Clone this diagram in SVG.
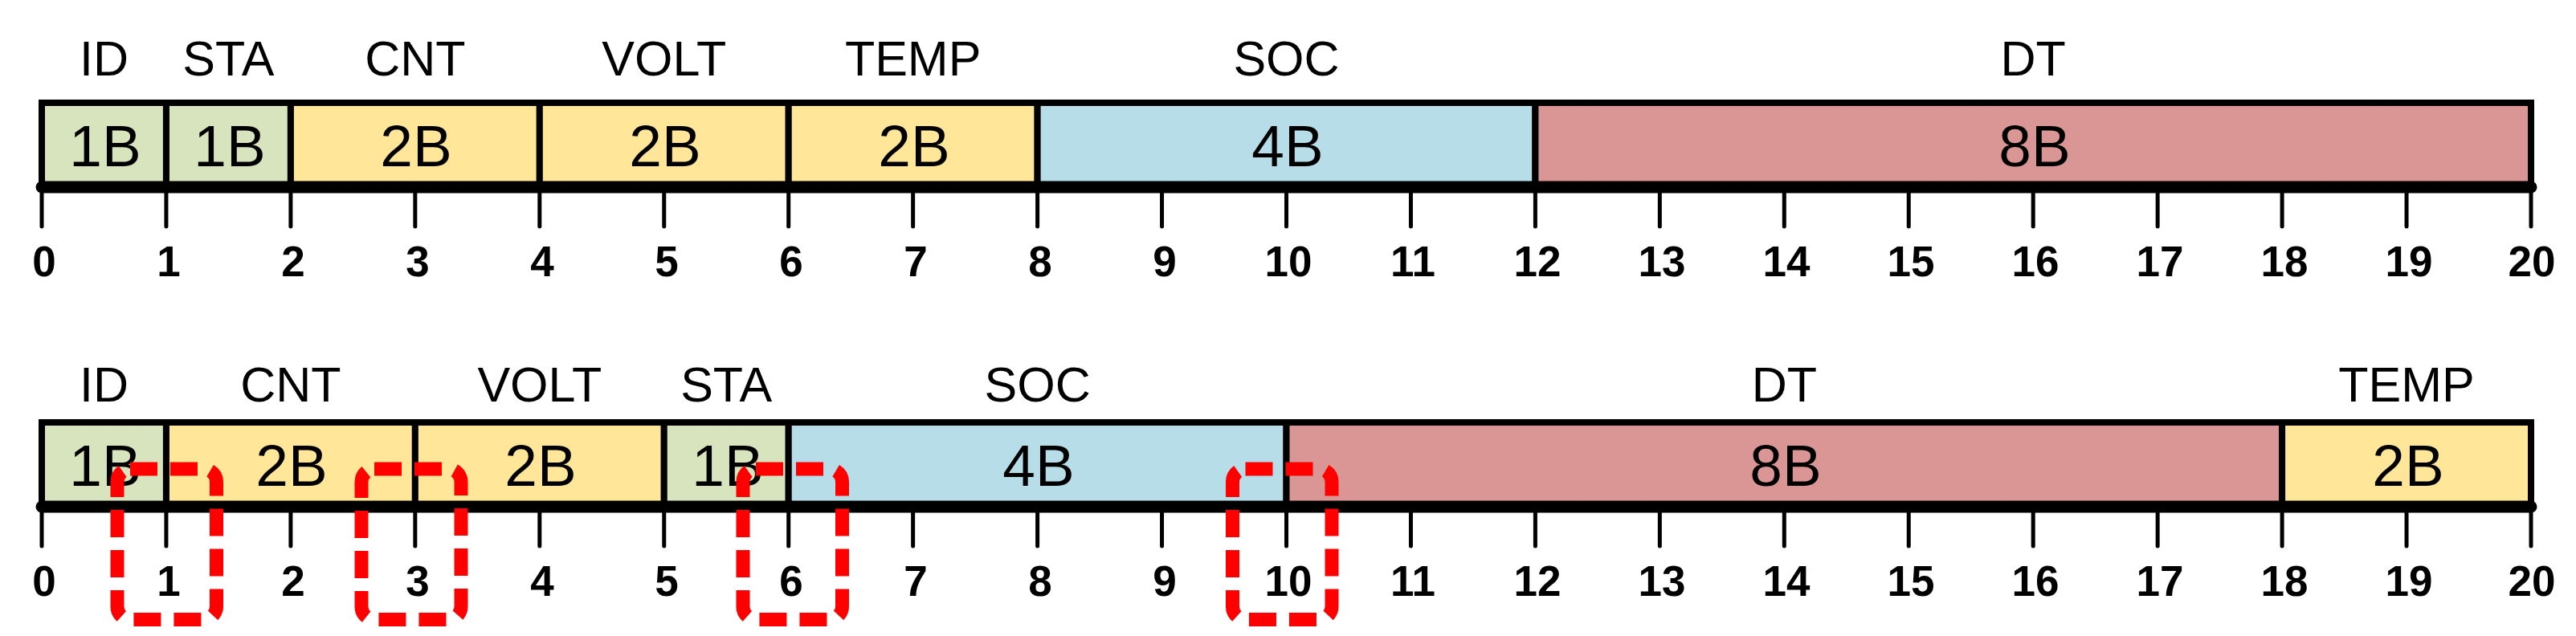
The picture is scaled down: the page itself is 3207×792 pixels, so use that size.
<svg xmlns="http://www.w3.org/2000/svg" width="3207" height="792" viewBox="0 0 3207 792">
<style>
.cell{stroke:#000;stroke-width:8}
.g{fill:#D7E4BD}.y{fill:#FFE699}.b{fill:#B7DDE8}.r{fill:#D99694}
.hdr{font-family:"Liberation Sans",Arial,sans-serif;font-size:61px;fill:#000;text-anchor:middle}
.sz{font-family:"Liberation Sans",Arial,sans-serif;font-size:73px;fill:#000;text-anchor:middle}
.num{font-family:"Liberation Sans",Arial,sans-serif;font-size:53px;font-weight:bold;fill:#000;text-anchor:middle}
.axis{stroke:#000;stroke-width:15;stroke-linecap:round;fill:none}
.tick{stroke:#000;stroke-width:5;stroke-linecap:round;fill:none}
.hl{fill:none;stroke:#FF0000;stroke-width:17;stroke-dasharray:34 16}
</style>
<rect width="3207" height="792" fill="#fff"/>

<!-- Top row -->
<g id="top-ID"><rect class="cell g" x="52" y="128" width="154.95" height="105"/><text class="hdr" x="129.5" y="94">ID</text><text class="sz" x="131" y="207">1B</text></g>
<g id="top-STA"><rect class="cell g" x="206.95" y="128" width="154.95" height="105"/><text class="hdr" x="284.4" y="94">STA</text><text class="sz" x="286" y="207">1B</text></g>
<g id="top-CNT"><rect class="cell y" x="361.9" y="128" width="309.9" height="105"/><text class="hdr" x="516.85" y="94">CNT</text><text class="sz" x="518" y="207">2B</text></g>
<g id="top-VOLT"><rect class="cell y" x="671.8" y="128" width="309.9" height="105"/><text class="hdr" x="826.75" y="94">VOLT</text><text class="sz" x="828" y="207">2B</text></g>
<g id="top-TEMP"><rect class="cell y" x="981.7" y="128" width="309.9" height="105"/><text class="hdr" x="1136.65" y="94">TEMP</text><text class="sz" x="1138" y="207">2B</text></g>
<g id="top-SOC"><rect class="cell b" x="1291.6" y="128" width="619.8" height="105"/><text class="hdr" x="1601.5" y="94">SOC</text><text class="sz" x="1603" y="207">4B</text></g>
<g id="top-DT"><rect class="cell r" x="1911.4" y="128" width="1239.6" height="105"/><text class="hdr" x="2531.2" y="94">DT</text><text class="sz" x="2533" y="207">8B</text></g>

<g id="top-axis">
<line class="axis" x1="52" y1="233" x2="3151" y2="233"/>
<path class="tick" d="M52 233V282M206.95 233V282M361.9 233V282M516.85 233V282M671.8 233V282M826.75 233V282M981.7 233V282M1136.65 233V282M1291.6 233V282M1446.55 233V282M1601.5 233V282M1756.45 233V282M1911.4 233V282M2066.35 233V282M2221.3 233V282M2376.25 233V282M2531.2 233V282M2686.15 233V282M2841.1 233V282M2996.05 233V282M3151 233V282"/>
<text class="num" x="55" y="344">0</text><text class="num" x="210" y="344">1</text><text class="num" x="365" y="344">2</text><text class="num" x="520" y="344">3</text><text class="num" x="675" y="344">4</text><text class="num" x="830" y="344">5</text><text class="num" x="985" y="344">6</text><text class="num" x="1140" y="344">7</text><text class="num" x="1295" y="344">8</text><text class="num" x="1450" y="344">9</text><text class="num" x="1604" y="344">10</text><text class="num" x="1759" y="344">11</text><text class="num" x="1914" y="344">12</text><text class="num" x="2069" y="344">13</text><text class="num" x="2224" y="344">14</text><text class="num" x="2379" y="344">15</text><text class="num" x="2534" y="344">16</text><text class="num" x="2689" y="344">17</text><text class="num" x="2844" y="344">18</text><text class="num" x="2999" y="344">19</text><text class="num" x="3152" y="344">20</text>
</g>

<!-- Bottom row -->
<g id="bot-ID"><rect class="cell g" x="52" y="526" width="154.95" height="105"/><text class="hdr" x="129.5" y="500">ID</text><text class="sz" x="131" y="605">1B</text></g>
<g id="bot-CNT"><rect class="cell y" x="206.95" y="526" width="309.9" height="105"/><text class="hdr" x="361.9" y="500">CNT</text><text class="sz" x="363" y="605">2B</text></g>
<g id="bot-VOLT"><rect class="cell y" x="516.85" y="526" width="309.9" height="105"/><text class="hdr" x="671.8" y="500">VOLT</text><text class="sz" x="673" y="605">2B</text></g>
<g id="bot-STA"><rect class="cell g" x="826.75" y="526" width="154.95" height="105"/><text class="hdr" x="904.2" y="500">STA</text><text class="sz" x="906" y="605">1B</text></g>
<g id="bot-SOC"><rect class="cell b" x="981.7" y="526" width="619.8" height="105"/><text class="hdr" x="1291.6" y="500">SOC</text><text class="sz" x="1293" y="605">4B</text></g>
<g id="bot-DT"><rect class="cell r" x="1601.5" y="526" width="1239.6" height="105"/><text class="hdr" x="2221.3" y="500">DT</text><text class="sz" x="2223" y="605">8B</text></g>
<g id="bot-TEMP"><rect class="cell y" x="2841.1" y="526" width="309.9" height="105"/><text class="hdr" x="2996.05" y="500">TEMP</text><text class="sz" x="2998" y="605">2B</text></g>

<g id="bot-axis">
<line class="axis" x1="52" y1="631" x2="3151" y2="631"/>
<path class="tick" d="M52 631V680M206.95 631V680M361.9 631V680M516.85 631V680M671.8 631V680M826.75 631V680M981.7 631V680M1136.65 631V680M1291.6 631V680M1446.55 631V680M1601.5 631V680M1756.45 631V680M1911.4 631V680M2066.35 631V680M2221.3 631V680M2376.25 631V680M2531.2 631V680M2686.15 631V680M2841.1 631V680M2996.05 631V680M3151 631V680"/>
<text class="num" x="55" y="742">0</text><text class="num" x="210" y="742">1</text><text class="num" x="365" y="742">2</text><text class="num" x="520" y="742">3</text><text class="num" x="675" y="742">4</text><text class="num" x="830" y="742">5</text><text class="num" x="985" y="742">6</text><text class="num" x="1140" y="742">7</text><text class="num" x="1295" y="742">8</text><text class="num" x="1450" y="742">9</text><text class="num" x="1604" y="742">10</text><text class="num" x="1759" y="742">11</text><text class="num" x="1914" y="742">12</text><text class="num" x="2069" y="742">13</text><text class="num" x="2224" y="742">14</text><text class="num" x="2379" y="742">15</text><text class="num" x="2534" y="742">16</text><text class="num" x="2689" y="742">17</text><text class="num" x="2844" y="742">18</text><text class="num" x="2999" y="742">19</text><text class="num" x="3152" y="742">20</text>
</g>

<!-- Highlights -->
<g id="highlights">
<rect class="hl" x="146" y="584" width="123.5" height="187.5" rx="16"/>
<rect class="hl" x="450" y="584" width="124" height="187.5" rx="16"/>
<rect class="hl" x="925" y="584" width="123.5" height="187.5" rx="16"/>
<rect class="hl" x="1534.5" y="584" width="123.5" height="187.5" rx="16"/>
</g>
</svg>
